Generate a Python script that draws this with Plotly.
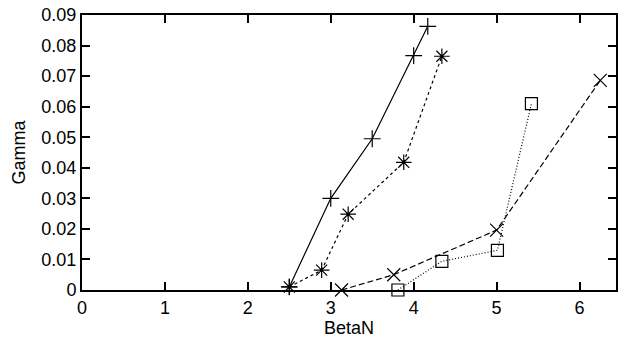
import plotly.graph_objects as go

# BetaN / Gamma scan results for four cases
beta_plus = [2.5, 3.0, 3.5, 4.0, 4.17]
gamma_plus = [0.001, 0.030, 0.0495, 0.0767, 0.0863]

beta_star = [2.5, 2.89, 3.21, 3.88, 4.34]
gamma_star = [0.001, 0.0065, 0.0248, 0.0418, 0.0765]

beta_x = [3.13, 3.76, 5.0, 6.25]
gamma_x = [0.0, 0.005, 0.0196, 0.0686]

beta_sq = [3.81, 4.34, 5.01, 5.42]
gamma_sq = [0.0, 0.0094, 0.0130, 0.0610]

x_ticks = [0, 1, 2, 3, 4, 5, 6]
y_ticks = [0, 0.01, 0.02, 0.03, 0.04, 0.05, 0.06, 0.07, 0.08, 0.09]
y_labels = ["0", "0.01", "0.02", "0.03", "0.04", "0.05", "0.06", "0.07", "0.08", "0.09"]

series = [
    (beta_plus, gamma_plus, "cross-thin-open", "solid", 12),
    (beta_star, gamma_star, "asterisk-open", "3px,3px", 13),
    (beta_x, gamma_x, "x-thin-open", "6px,3px", 13),
    (beta_sq, gamma_sq, "square-open", "1px,2px", 12),
]

fig = go.Figure()
for xs, ys, sym, dash, size in series:
    fig.add_trace(go.Scatter(
        x=xs, y=ys, mode="lines+markers",
        line=dict(color="black", width=1.2, dash=dash),
        marker=dict(symbol=sym, size=size, color="black",
                    line=dict(color="black", width=1.2)),
        showlegend=False, cliponaxis=False,
    ))

axis_common = dict(
    showline=True, linecolor="black", linewidth=2, mirror="allticks",
    ticks="inside", ticklen=8, tickwidth=2, tickcolor="black",
    showgrid=False, zeroline=False,
    tickfont=dict(family="Liberation Sans", size=18, color="black"),
    title_font=dict(family="Liberation Sans", size=18, color="black"),
)

fig.update_xaxes(range=[0, 6.44], tickvals=x_ticks,
                 title_text="BetaN", title_standoff=5, **axis_common)
fig.update_yaxes(range=[0, 0.09], tickvals=y_ticks, ticktext=y_labels,
                 title_text="Gamma", title_standoff=11, **axis_common)

fig.update_layout(
    width=619, height=342,
    margin=dict(l=82, r=1, t=15, b=52),
    plot_bgcolor="white", paper_bgcolor="white",
)

fig.write_html("out.html")
